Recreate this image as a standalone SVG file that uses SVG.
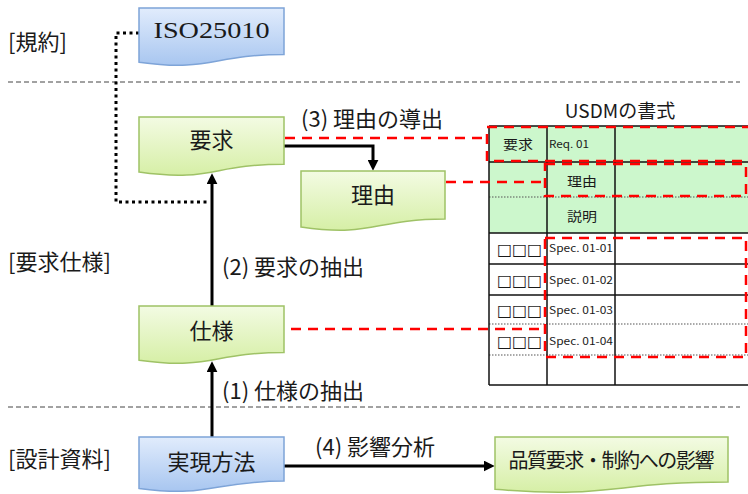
<svg xmlns="http://www.w3.org/2000/svg" width="748" height="494" viewBox="0 0 748 494">
<style>
.t{font-family:"Noto Sans CJK JP","Noto Sans",sans-serif;fill:#1a1a1a}
.lbl{font-size:22px}
.node-g{fill:url(#gGreen);stroke:#9fc266;stroke-width:1.5}
.node-b{fill:url(#gBlue);stroke:#7ea4d8;stroke-width:1.5}
.sep{stroke:#444;stroke-width:1;stroke-dasharray:5 3;fill:none}
.arr{stroke:#000;stroke-width:3;fill:none;marker-end:url(#ah)}
.red{stroke:#ff0000;stroke-width:2.5;stroke-dasharray:10 7;fill:none}
.tl{stroke:#111;stroke-width:1.5;fill:none}
.td{stroke:#555;stroke-width:1.2;stroke-dasharray:1.5 1.5;fill:none}
.sm{font-size:10px}
.box{font-family:"DejaVu Sans",sans-serif;font-size:16px;fill:#1a1a1a}
</style>
<defs>
<linearGradient id="gGreen" x1="0" y1="0" x2="0" y2="1">
<stop offset="0" stop-color="#f3fbe3"/>
<stop offset="1" stop-color="#d6efa6"/>
</linearGradient>
<linearGradient id="gBlue" x1="0" y1="0" x2="0" y2="1">
<stop offset="0" stop-color="#e1ecfc"/>
<stop offset="1" stop-color="#a8c6f0"/>
</linearGradient>
<marker id="ah" viewBox="0 0 10 10" refX="3" refY="5" markerWidth="11" markerHeight="11" markerUnits="userSpaceOnUse" orient="auto">
<path d="M0,0 L10,5 L0,10 Z" fill="#000"/>
</marker>
</defs>

<!-- separators -->
<line class="sep" x1="8" y1="82" x2="740" y2="82"/>
<line class="sep" x1="8" y1="407" x2="740" y2="407"/>

<!-- left labels -->
<text class="t lbl" x="8" y="50">[規約]</text>
<text class="t lbl" x="8" y="270">[要求仕様]</text>
<text class="t lbl" x="8" y="467">[設計資料]</text>

<!-- USDM table -->
<g id="usdm-table">
<text class="t" x="620" y="118" font-size="19" text-anchor="middle" fill="#333">USDMの書式</text>
<rect x="489" y="126" width="262" height="107" fill="#ccf7cc"/>
<line class="tl" x1="489" y1="126" x2="748" y2="126"/>
<line class="tl" x1="489" y1="162" x2="748" y2="162"/>
<line class="td" x1="489" y1="197" x2="748" y2="197"/>
<line class="tl" x1="489" y1="233" x2="748" y2="233"/>
<line class="tl" x1="489" y1="264" x2="748" y2="264"/>
<line class="tl" x1="489" y1="295" x2="748" y2="295"/>
<line class="td" x1="489" y1="324" x2="748" y2="324"/>
<line class="td" x1="489" y1="355" x2="748" y2="355"/>
<line class="tl" x1="489" y1="385" x2="748" y2="385"/>
<line class="tl" x1="489" y1="126" x2="489" y2="385"/>
<line class="tl" x1="547" y1="126" x2="547" y2="385"/>
<line class="tl" x1="615" y1="126" x2="615" y2="385"/>
<text class="t" x="518" y="149" font-size="13" text-anchor="middle" textLength="30" lengthAdjust="spacingAndGlyphs">要求</text>
<text class="t sm" x="549" y="148" textLength="40" lengthAdjust="spacingAndGlyphs">Req. 01</text>
<text class="t" x="582" y="186" font-size="13" text-anchor="middle" textLength="30" lengthAdjust="spacingAndGlyphs">理由</text>
<text class="t" x="582" y="221" font-size="13" text-anchor="middle" textLength="30" lengthAdjust="spacingAndGlyphs">説明</text>
<text class="box" x="497" y="255" textLength="45" lengthAdjust="spacingAndGlyphs">□□□</text>
<text class="box" x="497" y="286" textLength="45" lengthAdjust="spacingAndGlyphs">□□□</text>
<text class="box" x="497" y="316" textLength="45" lengthAdjust="spacingAndGlyphs">□□□</text>
<text class="box" x="497" y="347" textLength="45" lengthAdjust="spacingAndGlyphs">□□□</text>
<text class="t sm" x="549" y="252" textLength="64" lengthAdjust="spacingAndGlyphs">Spec.  01-01</text>
<text class="t sm" x="549" y="284" textLength="64" lengthAdjust="spacingAndGlyphs">Spec.  01-02</text>
<text class="t sm" x="549" y="314" textLength="64" lengthAdjust="spacingAndGlyphs">Spec.  01-03</text>
<text class="t sm" x="549" y="345" textLength="64" lengthAdjust="spacingAndGlyphs">Spec.  01-04</text>
<path class="red" d="M752,127 H487 V161 H752"/>
<rect class="red" x="545" y="164" width="201" height="32"/>
<rect class="red" x="545" y="238" width="201" height="119"/>
</g>

<!-- connectors -->
<g id="connectors">
<path d="M139,33 H116 V202 H210" stroke="#000" stroke-width="3" stroke-dasharray="3 3.5" fill="none"/>
<line class="red" x1="285" y1="138" x2="487" y2="138"/>
<line class="red" x1="446" y1="182" x2="545" y2="182"/>
<line class="red" x1="291" y1="329" x2="545" y2="329"/>
<line class="arr" x1="212" y1="306" x2="212" y2="181"/>
<path class="arr" d="M284,146 H373 V163"/>
<line class="arr" x1="212" y1="437" x2="212" y2="369"/>
<line class="arr" x1="284" y1="466" x2="487" y2="466"/>
<text class="t lbl" x="301" y="127">(3) 理由の導出</text>
<text class="t lbl" x="222" y="275">(2) 要求の抽出</text>
<text class="t lbl" x="222" y="399">(1) 仕様の抽出</text>
<text class="t lbl" x="315" y="455">(4) 影響分析</text>
</g>

<!-- nodes -->
<g id="node-iso">
<path class="node-b" d="M139,8 H284 V54.5 C211.5,54.5 211.5,72.3 139,62.2 Z"/>
<text x="211.5" y="38" font-family="Liberation Serif,serif" font-size="24" fill="#1a1a1a" text-anchor="middle" textLength="116" lengthAdjust="spacingAndGlyphs">ISO25010</text>
</g>
<g id="node-req">
<path class="node-g" d="M139,117 H284 V164.3 C211.5,164.3 211.5,182.4 139,172.1 Z"/>
<text class="t lbl" x="211.5" y="148" text-anchor="middle">要求</text>
</g>
<g id="node-reason">
<path class="node-g" d="M301,171 H445 V219.1 C373,219.1 373,237.5 301,227 Z"/>
<text class="t lbl" x="373" y="203" text-anchor="middle">理由</text>
</g>
<g id="node-spec">
<path class="node-g" d="M139,306 H284 V352.5 C211.5,352.5 211.5,370.3 139,360.2 Z"/>
<text class="t lbl" x="211.5" y="339" text-anchor="middle">仕様</text>
</g>
<g id="node-impl">
<path class="node-b" d="M139,437 H284 V481.1 C211.5,481.1 211.5,497.9 139,488.4 Z"/>
<text class="t lbl" x="211.5" y="470" text-anchor="middle">実現方法</text>
</g>
<g id="node-impact">
<path class="node-g" d="M495,437 H728 V481.9 C611.5,481.9 611.5,499 495,489.3 Z"/>
<text class="t" x="611.5" y="468" font-size="20" text-anchor="middle" textLength="206">品質要求・制約への影響</text>
</g>
</svg>
